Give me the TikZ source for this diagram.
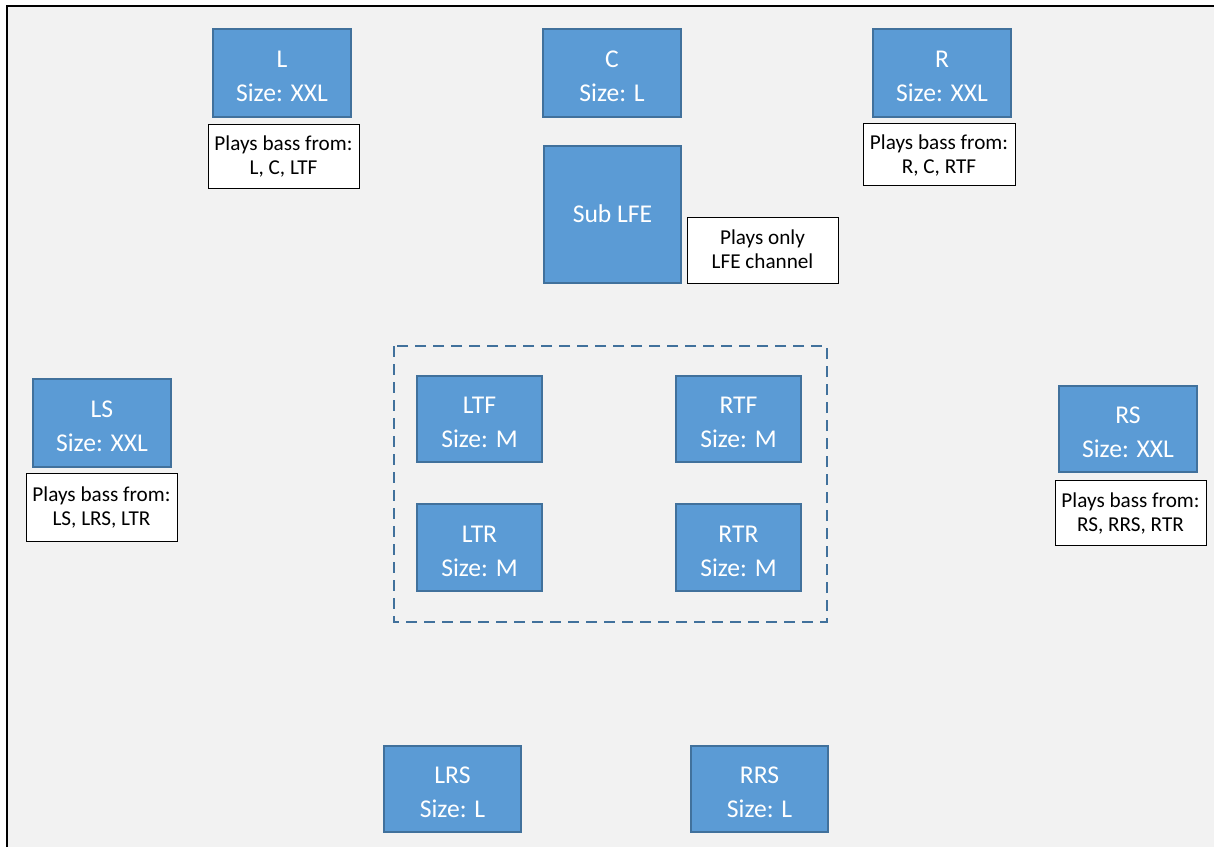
\documentclass[tikz,border=0pt]{standalone}
\usepackage{fontspec}
\setmainfont{Carlito}
\definecolor{spkfill}{HTML}{5B9BD5}
\definecolor{spkedge}{HTML}{41719C}
\definecolor{roomfill}{HTML}{F2F2F2}
\tikzset{
  spk/.style={draw=spkedge, fill=spkfill, line width=2pt, text=white,
    inner sep=0pt, align=center, font=\fontsize{25.6}{34}\selectfont,
    text height=57pt, text depth=0pt},
  note/.style={draw=black, fill=white, line width=1pt, text=black,
    inner sep=0pt, align=center, font=\fontsize{21.2}{24}\selectfont,
    text height=37.5pt, text depth=0pt},
  zone/.style={draw=spkedge, line width=2.6pt, dash pattern=on 11pt off 7pt},
}
\begin{document}
\begin{tikzpicture}[x=1pt,y=-1pt]
  \useasboundingbox (0,0) rectangle (1214,847);
  \fill[white] (0,0) rectangle (1214,847);
  % room
  \fill[roomfill] (7,6) rectangle (1214,847);
  \draw[black, line width=2pt] (7,847) -- (7,6) -- (1214,6);

  % front speakers
  \node[spk, minimum width=138pt, minimum height=88pt] (L) at (282,73) {L\\Size: XXL};
  \node[spk, minimum width=138pt, minimum height=88pt] (C) at (612,73) {C\\Size: L};
  \node[spk, minimum width=138pt, minimum height=88pt] (R) at (942,73) {R\\Size: XXL};
  \node[note, minimum width=151pt, minimum height=64pt] (Lnote) at (283.5,156) {Plays bass from:\\L, C, LTF};
  \node[note, minimum width=152pt, minimum height=62pt] (Rnote) at (939,154.5) {Plays bass from:\\R, C, RTF};

  % subwoofer
  \node[spk, minimum width=137pt, minimum height=137pt, text height=15.6pt] (Sub) at (612.5,214.5) {Sub LFE};
  \node[note, minimum width=151pt, minimum height=66pt] (Subnote) at (762.5,250) {Plays only\\LFE channel};

  % side speakers
  \node[spk, minimum width=138pt, minimum height=88pt] (LS) at (102,423) {LS\\Size: XXL};
  \node[note, minimum width=151pt, minimum height=68pt] (LSnote) at (101.5,507) {Plays bass from:\\LS, LRS, LTR};
  \node[spk, minimum width=138pt, minimum height=86pt] (RS) at (1128,429) {RS\\Size: XXL};
  \node[note, minimum width=151pt, minimum height=65pt] (RSnote) at (1130.5,512.5) {Plays bass from:\\RS, RRS, RTR};

  % height speakers
  \draw[zone] (394,346) rectangle (827,622);
  \node[spk, minimum width=125pt, minimum height=86pt] (LTF) at (479.5,419) {LTF\\Size: M};
  \node[spk, minimum width=125pt, minimum height=86pt] (RTF) at (738.5,419) {RTF\\Size: M};
  \node[spk, minimum width=125pt, minimum height=87pt] (LTR) at (479.5,547.5) {LTR\\Size: M};
  \node[spk, minimum width=125pt, minimum height=87pt] (RTR) at (738.5,547.5) {RTR\\Size: M};

  % rear speakers
  \node[spk, minimum width=137pt, minimum height=86pt] (LRS) at (452.5,789) {LRS\\Size: L};
  \node[spk, minimum width=137pt, minimum height=86pt] (RRS) at (759.5,789) {RRS\\Size: L};
\end{tikzpicture}
\end{document}
